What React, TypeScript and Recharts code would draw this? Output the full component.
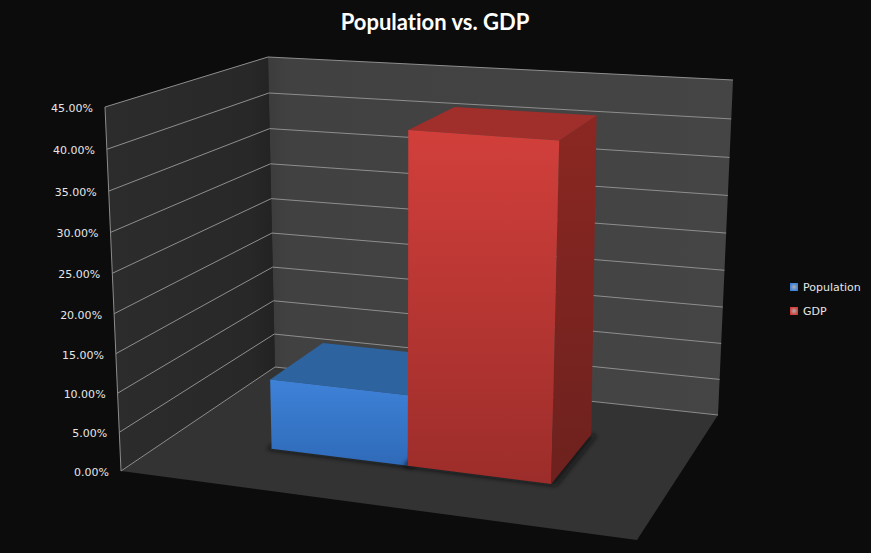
import { BarChart, Bar, XAxis, YAxis, CartesianGrid, Legend } from 'recharts';

const W = 871;
const H = 553;

const categories = ['2010'];
const populationValues = [9.2];
const gdpValues = [42.2];
const yTicks = [0, 5, 10, 15, 20, 25, 30, 35, 40, 45];

const chartData = categories.map((name, i) => ({
    name,
    Population: populationValues[i],
    GDP: gdpValues[i],
}));

// corners of the 3D box as they land on the page: [u, depth, height]
const CORNERS: Record<string, number[]> = {
    '000': [121, 471],
    '100': [637, 540],
    '010': [275, 367],
    '110': [718, 415],
    '001': [105, 107],
    '101': [652, 147],
    '011': [268, 57],
    '111': [733, 80],
};

const warp = (v: number, a: number) => (v * a) / (1 + v * (a - 1));

const project = (u: number, d: number, t: number) => {
    const uu = warp(u, 0.916);
    const tt = warp(t, 0.951);
    const out = [0, 0];
    for (let a = 0; a < 2; a++) {
        for (let b = 0; b < 2; b++) {
            for (let c = 0; c < 2; c++) {
                const k = (a ? uu : 1 - uu) * (b ? d : 1 - d) * (c ? tt : 1 - tt);
                const p = CORNERS[`${a}${b}${c}`];
                out[0] += k * p[0];
                out[1] += k * p[1];
            }
        }
    }
    return out;
};

const pts = (list: number[][]) => list.map((p) => project(p[0], p[1], p[2]).join(',')).join(' ');

const BAR_FRONT = 0.335;
const BAR_BACK = 0.745;
const BAR_BACK_TOP = 0.71;

// walls and floor sit behind the (transparent) chart
const Room = () => (
    <svg width={W} height={H} style={{ position: 'absolute', left: 0, top: 0 }}>
        <defs>
            <linearGradient id="sideWall" x1="0" y1="0" x2="1" y2="0">
                <stop offset="0%" stopColor="#2c2c2c" />
                <stop offset="85%" stopColor="#282828" />
                <stop offset="100%" stopColor="#222222" />
            </linearGradient>
            <linearGradient id="backWall" x1="0" y1="0" x2="1" y2="0">
                <stop offset="0%" stopColor="#3c3c3c" />
                <stop offset="4%" stopColor="#414141" />
                <stop offset="100%" stopColor="#454545" />
            </linearGradient>
            <filter id="barShadow" x="-20%" y="-20%" width="140%" height="140%">
                <feGaussianBlur stdDeviation="2.5" />
            </filter>
        </defs>
        <polygon points={pts([[0, 0, 0], [0, 1, 0], [0, 1, 1], [0, 0, 1]])} fill="url(#sideWall)" />
        <polygon points={pts([[0, 1, 0], [1, 1, 0], [1, 1, 1], [0, 1, 1]])} fill="url(#backWall)" />
        <polygon points={pts([[0, 0, 0], [1, 0, 0], [1, 1, 0], [0, 1, 0]])} fill="#333333" />
        <polyline points={pts([[0, 0, 0], [0, 0, 1]])} fill="none" stroke="#8c8c8c" strokeWidth={1} />
        <text
            x={435}
            y={30}
            textAnchor="middle"
            fontFamily="Lato, sans-serif"
            fontWeight={700}
            fontSize={22}
            fill="#ffffff"
            style={{ fontVariantLigatures: 'none' }}
        >
            Population vs. GDP
        </text>
    </svg>
);

const gridLine = (props: any) => {
    const t = (H - props.y1) / H;
    return (
        <polyline
            key={`grid-${props.index}`}
            points={pts([[0, 0, t], [0, 1, t], [1, 1, t]])}
            fill="none"
            stroke="#8e8e8e"
            strokeWidth={1}
        />
    );
};

const AxisTick = ({ y, payload }: any) => {
    const t = (H - y) / H;
    const p = project(0, 0, t);
    return (
        <text
            x={p[0] - 12}
            y={p[1] + 5}
            textAnchor="end"
            fontFamily="'DejaVu Sans', sans-serif"
            fontSize={11}
            fill="#e6e6e6"
        >
            {payload.value.toFixed(2)}%
        </text>
    );
};

interface Palette {
    id: string;
    frontTop: string;
    frontBottom: string;
    top: string;
    sideTop: string;
    sideBottom: string;
}

const bluePalette: Palette = {
    id: 'pop',
    frontTop: '#3e82d8',
    frontBottom: '#2f6ab8',
    top: '#2d639f',
    sideTop: '#234f85',
    sideBottom: '#1e4370',
};

const redPalette: Palette = {
    id: 'gdp',
    frontTop: '#d23f3b',
    frontBottom: '#9c2d2a',
    top: '#a02e2a',
    sideTop: '#8b2722',
    sideBottom: '#6d211e',
};

const Box3D = ({ x, y, width, height, palette }: any) => {
    const u0 = x / W;
    const u1 = (x + width) / W;
    const t = (H - y) / H;
    const tb = (H - (y + height)) / H;
    const d0 = BAR_FRONT;
    const d1 = BAR_BACK;
    const front = pts([[u0, d0, tb], [u1, d0, tb], [u1, d0, t], [u0, d0, t]]);
    const top = pts([[u0, d0, t], [u1, d0, t], [u1, BAR_BACK_TOP, t], [u0, BAR_BACK_TOP, t]]);
    const side = pts([[u1, d0, tb], [u1, d1, tb], [u1, BAR_BACK_TOP, t], [u1, d0, t]]);
    const shadow = pts([
        [u0 - 0.008, d0 - 0.012, tb],
        [u1 + 0.012, d0 - 0.012, tb],
        [u1 + 0.012, d1, tb],
        [u0 - 0.008, d1, tb],
    ]);
    return (
        <g>
            <defs>
                <linearGradient id={`${palette.id}-front`} x1="0" y1="0" x2="0" y2="1">
                    <stop offset="0%" stopColor={palette.frontTop} />
                    <stop offset="100%" stopColor={palette.frontBottom} />
                </linearGradient>
                <linearGradient id={`${palette.id}-side`} x1="0" y1="0" x2="0" y2="1">
                    <stop offset="0%" stopColor={palette.sideTop} />
                    <stop offset="100%" stopColor={palette.sideBottom} />
                </linearGradient>
            </defs>
            <polygon points={shadow} fill="#0a1214" fillOpacity={0.75} filter="url(#barShadow)" />
            <polygon points={side} fill={`url(#${palette.id}-side)`} />
            <polygon points={top} fill={palette.top} />
            <polygon points={front} fill={`url(#${palette.id}-front)`} />
        </g>
    );
};

const LegendContent = ({ payload }: any) => (
    <div style={{ fontFamily: "'DejaVu Sans', sans-serif", fontSize: 11, color: '#e6e6e6' }}>
        {(payload || []).map((entry: any) => (
            <div key={entry.value} style={{ display: 'flex', alignItems: 'center', height: 24 }}>
                <div
                    style={{
                        width: 8,
                        height: 8,
                        marginRight: 5,
                        background: `radial-gradient(circle, #ffffffaa 0%, ${entry.color} 70%)`,
                    }}
                />
                <span>{entry.value}</span>
            </div>
        ))}
    </div>
);

export default function App() {
    return (
        <div style={{ position: 'absolute', left: 0, top: 0, width: W, height: H, background: '#0c0c0c' }}>
            <Room />
            <BarChart
                width={W}
                height={H}
                data={chartData}
                margin={{ top: 0, right: 0, bottom: 0, left: 0 }}
                barGap={0}
                barCategoryGap="21.5%"
            >
                <CartesianGrid vertical={false} horizontal={gridLine} horizontalValues={yTicks} />
                <XAxis dataKey="name" hide />
                <YAxis width={1} domain={[0, 45]} ticks={yTicks} axisLine={false} tickLine={false} tick={AxisTick} interval={0} />
                <Bar dataKey="Population" fill="#3e82d8" isAnimationActive={false} shape={(p: any) => <Box3D {...p} palette={bluePalette} />} />
                <Bar dataKey="GDP" fill="#d23f3b" isAnimationActive={false} shape={(p: any) => <Box3D {...p} palette={redPalette} />} />
                <Legend
                    layout="vertical"
                    align="center"
                    verticalAlign="middle"
                    itemSorter={null}
                    content={LegendContent}
                    wrapperStyle={{ position: 'absolute', left: 790, top: 275, width: 80, height: 48 }}
                />
            </BarChart>
        </div>
    );
}
